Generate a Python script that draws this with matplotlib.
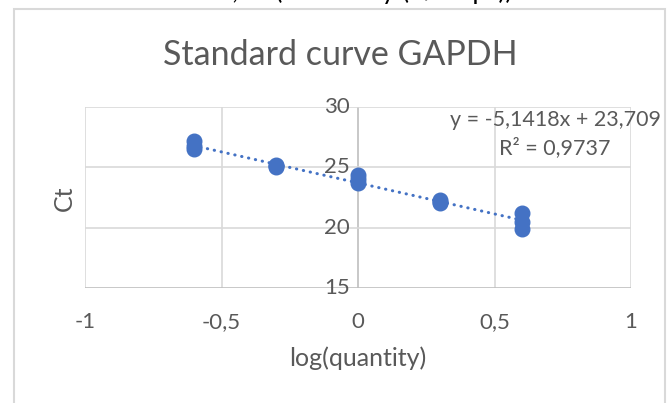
import numpy as np
import matplotlib.pyplot as plt
from matplotlib.patches import Rectangle

plt.rcParams['font.family'] = ['Lato', 'DejaVu Sans']

# dilution series, log10 of relative quantity, triplicate Ct readings
log_qty = [-0.602, -0.602, -0.602, -0.301, -0.301, -0.301, 0.0, 0.0, 0.0,
           0.301, 0.301, 0.301, 0.602, 0.602, 0.602]
ct = [27.15, 26.75, 26.5, 25.2, 25.05, 25.1, 24.4, 24.0, 23.7,
      22.3, 22.05, 22.15, 21.2, 20.45, 19.9]

# linear trendline
slope = -5.1418
intercept = 23.709
r_squared = 0.9737

x_ticks = [-1, -0.5, 0, 0.5, 1]
y_ticks = [15, 20, 25, 30]

blue = '#4472C4'
grey_text = '#595959'
grid_col = '#d9d9d9'
axis_col = '#bfbfbf'


def comma(v, fmt):
    return format(v, fmt).replace('.', ',')


fig = plt.figure(figsize=(6.69, 4.03), dpi=100)
W, H = 669, 403
ax = fig.add_axes([85 / W, 1 - 288 / H, (631 - 85) / W, (288 - 107) / H])

ax.set_xlim(-1, 1)
ax.set_ylim(15, 30)
for s in ax.spines.values():
    s.set_visible(False)

for x in x_ticks:
    ax.axvline(x, color=axis_col if x == 0 else grid_col, lw=1.2, zorder=0)
for y in y_ticks:
    ax.axhline(y, color=axis_col if y == 15 else grid_col, lw=1.2, zorder=0)

ax.set_xticks([])
ax.set_yticks([])

# x tick labels below the plot, y tick labels beside the x=0 axis
for x in x_ticks:
    lab = '0' if x == 0 else comma(x, 'g')
    ax.text(x, -0.19, lab, transform=ax.get_xaxis_transform(), ha='center',
            va='center', fontsize=16, color=grey_text)
for y in y_ticks:
    ax.text(-0.03, y, str(y), ha='right', va='center', fontsize=16,
            color=grey_text)

xs = np.array([min(log_qty), max(log_qty)])
ax.plot(xs, slope * xs + intercept, color=blue, lw=2.2,
        linestyle=(0, (0.1, 2.2)), dash_capstyle='round', zorder=2)
ax.plot(log_qty, ct, 'o', color=blue, markersize=10.5, zorder=3)

eq = f'y = {comma(slope, ".4f")}x + {comma(intercept, ".3f")}\nR² = {comma(r_squared, ".4f")}'
fig.text(555 / W, 1 - 134 / H, eq, ha='center', va='center', fontsize=15.5,
         color=grey_text, linespacing=1.45)

fig.text(340 / W, 1 - 55 / H, 'Standard curve GAPDH', ha='center',
         va='center', fontsize=24.5, color=grey_text)
fig.text(358 / W, 1 - 358 / H, 'log(quantity)', ha='center', va='center',
         fontsize=18, color=grey_text)
fig.text(64 / W, 1 - 198 / H, 'Ct', ha='center', va='center', rotation=90,
         fontsize=18, color=grey_text)

# chart frame
fig.patches.append(Rectangle((14 / W, -0.05), (665 - 14) / W, 1.05 - 9 / H,
                             transform=fig.transFigure, fill=False,
                             edgecolor=grid_col, lw=1.5))

# surrounding document text, cut off at the top edge
fig.text(20 / W, 1 + 9 / H, 'calculated as 100*,67 (efficiency (1/3 eps))',
         ha='left', va='center', fontsize=19, color='black')

fig.savefig('out.png', dpi=100)
